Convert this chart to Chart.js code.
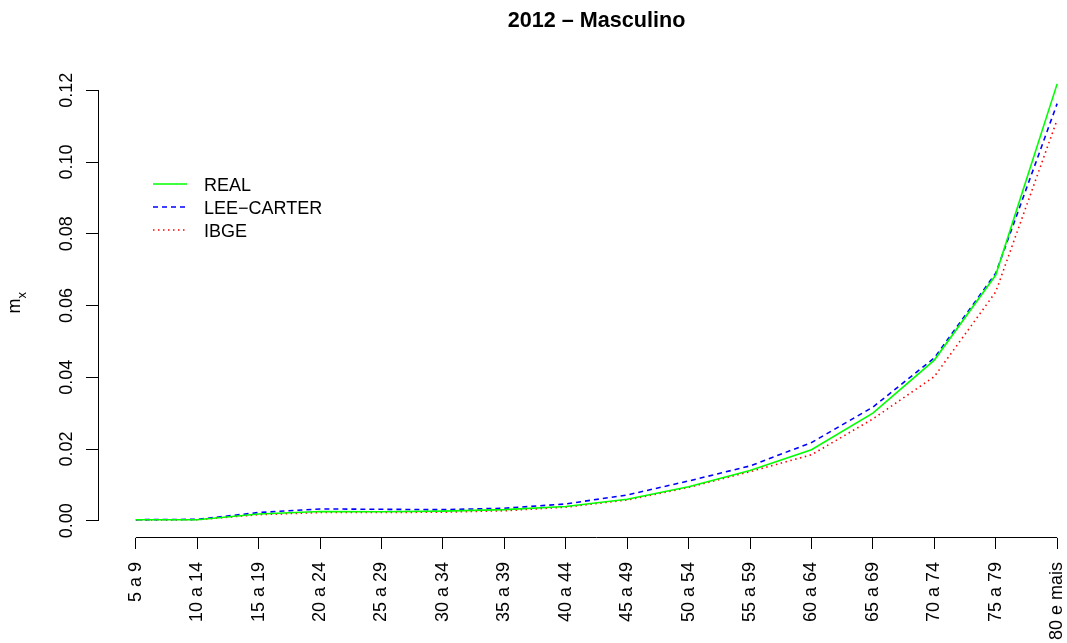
<!DOCTYPE html>
<html>
<head>
<meta charset="utf-8">
<script src="https://cdn.jsdelivr.net/npm/chart.js@4/dist/chart.umd.min.js"></script>
<style>
  html, body { margin: 0; padding: 0; background: #fff; overflow: hidden; }
  canvas { display: block; }
</style>
</head>
<body>
<!-- plot region runs a little past the right edge of the window -->
<canvas id="mxChart" width="1094" height="643"></canvas>
<script>
// age groups
const faixas = ["5 a 9","10 a 14","15 a 19","20 a 24","25 a 29","30 a 34","35 a 39","40 a 44",
  "45 a 49","50 a 54","55 a 59","60 a 64","65 a 69","70 a 74","75 a 79","80 e mais"];

// mortality rates mx, 2012, male
const real = [0.0003,0.0003,0.0019,0.0026,0.0025,0.0027,0.0031,0.0040,
  0.0060,0.0095,0.0140,0.0198,0.0300,0.0448,0.0685,0.1218];
const leeCarter = [0.0003,0.0004,0.0023,0.0033,0.0032,0.0031,0.0035,0.0047,
  0.0072,0.0111,0.0153,0.0218,0.0317,0.0454,0.0690,0.1163];
const ibge = [0.0002,0.0003,0.0017,0.0023,0.0023,0.0024,0.0028,0.0038,
  0.0058,0.0093,0.0137,0.0184,0.0284,0.0402,0.0638,0.1118];

const yTicks = [0, 0.02, 0.04, 0.06, 0.08, 0.10, 0.12];

const FONT = "'Liberation Sans', Arial, Helvetica, sans-serif";

const pts = arr => arr.map((v, i) => ({ x: i, y: v }));

// R-style axes: the axis line only runs from first to last tick
const axisLines = {
  id: "axisLines",
  afterDraw(chart) {
    const { ctx, scales: { x, y } } = chart;
    ctx.save();
    ctx.strokeStyle = "#000";
    ctx.lineWidth = 1;
    ctx.beginPath();
    const yl = Math.round(x.top) - 0.5;
    ctx.moveTo(x.getPixelForValue(0), yl);
    ctx.lineTo(x.getPixelForValue(faixas.length - 1), yl);
    const xl = Math.round(y.right) - 0.5;
    ctx.moveTo(xl, y.getPixelForValue(yTicks[0]));
    ctx.lineTo(xl, y.getPixelForValue(yTicks[yTicks.length - 1]));
    ctx.stroke();

    // y axis title: m with subscript x
    ctx.fillStyle = "#000";
    ctx.translate(20, (y.top + y.bottom) / 2 + 1);
    ctx.rotate(-Math.PI / 2);
    ctx.textBaseline = "alphabetic";
    ctx.textAlign = "left";
    ctx.font = "18px " + FONT;
    const mw = ctx.measureText("m").width;
    ctx.fillText("m", -10, 0);
    ctx.font = "13px " + FONT;
    ctx.fillText("x", -10 + mw, 5.5);
    ctx.restore();
  }
};

// legend inside the plot region
const innerLegend = {
  id: "innerLegend",
  afterDraw(chart) {
    const ctx = chart.ctx;
    const x0 = 153, x1 = 187, tx = 204;
    let yy = 184;
    ctx.save();
    ctx.font = "18px " + FONT;
    ctx.textBaseline = "alphabetic";
    chart.data.datasets.forEach(ds => {
      ctx.strokeStyle = ds.borderColor;
      ctx.lineWidth = ds.borderWidth;
      ctx.setLineDash(ds.borderDash || []);
      ctx.beginPath();
      ctx.moveTo(x0, yy);
      ctx.lineTo(x1, yy);
      ctx.stroke();
      ctx.setLineDash([]);
      ctx.fillStyle = "#000";
      ctx.fillText(ds.label, tx, yy + 6.5);
      yy += 23;
    });
    ctx.restore();
  }
};

new Chart(document.getElementById("mxChart"), {
  type: "line",
  data: {
    datasets: [
      { label: "REAL", data: pts(real), borderColor: "#00ff00", borderWidth: 1.6 },
      { label: "LEE\u2212CARTER", data: pts(leeCarter), borderColor: "#0000ff", borderWidth: 1.6, borderDash: [5, 4] },
      { label: "IBGE", data: pts(ibge), borderColor: "#ff0000", borderWidth: 1.6, borderDash: [1.5, 3.5] }
    ]
  },
  options: {
    responsive: false,
    animation: false,
    layout: { padding: 0 },
    elements: { point: { radius: 0 }, line: { tension: 0 } },
    plugins: {
      legend: { display: false },
      tooltip: { enabled: false },
      title: {
        display: true,
        text: "2012 \u2013 Masculino",
        fullSize: false,
        color: "#000",
        font: { family: FONT, size: 21.6, weight: "bold" },
        padding: { top: 8.5, bottom: 32.6 }
      }
    },
    scales: {
      x: {
        type: "linear",
        min: -0.6,
        max: 15.6,
        afterFit: s => { s.height = 105; s.paddingLeft = 0; s.paddingRight = 0; },
        afterBuildTicks: s => { s.ticks = faixas.map((_, i) => ({ value: i })); },
        grid: { display: true, drawOnChartArea: false, drawTicks: true, tickLength: 11, color: "#000", lineWidth: 1 },
        border: { display: false },
        ticks: {
          minRotation: 90,
          maxRotation: 90,
          autoSkip: false,
          padding: 13,
          color: "#000",
          font: { family: FONT, size: 18 },
          callback: v => faixas[v]
        }
      },
      y: {
        min: -0.0048,
        max: 0.1265,
        afterFit: s => { s.width = 99; s.paddingTop = 0; s.paddingBottom = 0; },
        afterBuildTicks: s => { s.ticks = yTicks.map(v => ({ value: v })); },
        grid: { display: true, drawOnChartArea: false, drawTicks: true, tickLength: 13, color: "#000", lineWidth: 1 },
        border: { display: false },
        ticks: {
          minRotation: 90,
          maxRotation: 90,
          crossAlign: "center",
          padding: 1,
          color: "#000",
          font: { family: FONT, size: 18 },
          callback: v => v.toFixed(2)
        }
      }
    }
  },
  plugins: [axisLines, innerLegend]
});
</script>
</body>
</html>
